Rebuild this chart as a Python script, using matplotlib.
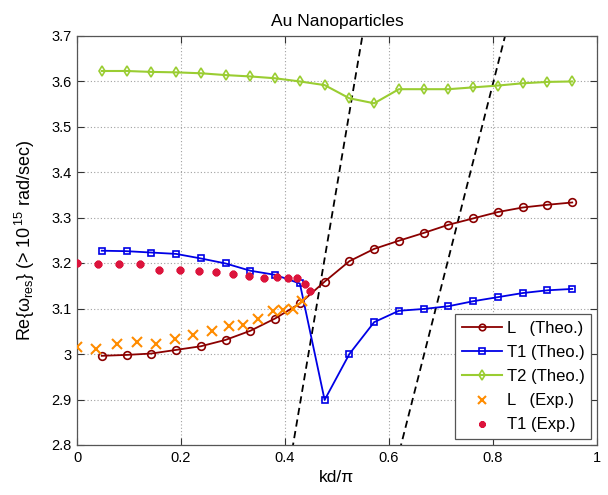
import numpy as np
import matplotlib
matplotlib.use("Agg")
import matplotlib.pyplot as plt

# ---------------- data ----------------
kd_theo = [k / 21 for k in range(1, 21)]
L_theo = [2.996, 2.998, 3.001, 3.009, 3.017, 3.031, 3.051, 3.078, 3.111, 3.159,
          3.204, 3.231, 3.249, 3.266, 3.284, 3.298, 3.312, 3.322, 3.328, 3.333]
T1_theo = [3.227, 3.226, 3.223, 3.220, 3.210, 3.199, 3.183, 3.174, 3.155, 2.899,
           3.000, 3.070, 3.095, 3.099, 3.105, 3.116, 3.125, 3.134, 3.140, 3.143]
T2_theo = [3.622, 3.622, 3.620, 3.619, 3.617, 3.613, 3.610, 3.606, 3.599, 3.591,
           3.562, 3.551, 3.582, 3.582, 3.582, 3.586, 3.590, 3.595, 3.598, 3.599]

kd_L_exp = [0.0, 0.0365, 0.076, 0.115, 0.152, 0.189, 0.224, 0.259, 0.292, 0.320,
            0.349, 0.376, 0.397, 0.415, 0.432]
L_exp = [3.016, 3.012, 3.021, 3.027, 3.023, 3.033, 3.042, 3.051, 3.062, 3.063,
         3.076, 3.095, 3.097, 3.100, 3.117]

kd_T1_exp = [0.0, 0.040, 0.081, 0.121, 0.158, 0.199, 0.235, 0.268, 0.300, 0.331,
             0.359, 0.384, 0.406, 0.424, 0.438, 0.449]
T1_exp = [3.201, 3.198, 3.198, 3.198, 3.185, 3.185, 3.182, 3.180, 3.175, 3.171,
          3.168, 3.170, 3.168, 3.166, 3.153, 3.138]

light_slopes = [6.74, 6.74 / 1.5]   # light lines (vacuum, n = 1.5)

labels = ["L   (Theo.)", "T1 (Theo.)", "T2 (Theo.)", "L   (Exp.)", "T1 (Exp.)"]
xticks = [0, 0.2, 0.4, 0.6, 0.8, 1]
xticklabels = ["0", "0.2", "0.4", "0.6", "0.8", "1"]
yticks = [2.8, 2.9, 3.0, 3.1, 3.2, 3.3, 3.4, 3.5, 3.6, 3.7]
yticklabels = ["2.8", "2.9", "3", "3.1", "3.2", "3.3", "3.4", "3.5", "3.6", "3.7"]

# ---------------- style ----------------
plt.rcParams['font.family'] = ['Liberation Sans', 'DejaVu Sans']
plt.rcParams['mathtext.fontset'] = 'custom'
plt.rcParams['mathtext.rm'] = 'Liberation Sans'
plt.rcParams['mathtext.it'] = 'Liberation Sans:italic'
plt.rcParams['mathtext.default'] = 'regular'

fig = plt.figure(figsize=(6.08, 4.95), dpi=100)
ax = fig.add_axes([77 / 608, 50 / 495, 520 / 608, 409.5 / 495])

c_L = '#8b0000'
c_T1 = '#0000e6'
c_T2 = '#9acd32'
c_Lx = '#ff8c00'
c_Tx = '#dc143c'

# light lines
u = np.linspace(0, 1, 200)
for s in light_slopes:
    ax.plot(u, s * u, color='black', linestyle=(0, (4, 2.5)), linewidth=1.3, zorder=2)

hL, = ax.plot(kd_theo, L_theo, '-o', color=c_L, mfc='none', mec=c_L, ms=5.5, mew=1.2,
              lw=1.3, label=labels[0], zorder=3)
hT1, = ax.plot(kd_theo, T1_theo, '-s', color=c_T1, mfc='none', mec=c_T1, ms=5, mew=1.2,
               lw=1.3, label=labels[1], zorder=3)
hT2, = ax.plot(kd_theo, T2_theo, '-d', color=c_T2, mfc='none', mec=c_T2, ms=5.5, mew=1.2,
               lw=1.5, label=labels[2], zorder=3)
hLx, = ax.plot(kd_L_exp, L_exp, 'x', color=c_Lx, ms=7.5, mew=1.5, label=labels[3], zorder=4)
hTx, = ax.plot(kd_T1_exp, T1_exp, marker=(8, 2, 0), ls='none', color=c_Tx, ms=5.5, mew=2.0,
               label=labels[4], zorder=4)

ax.set_xlim(0, 1)
ax.set_ylim(2.8, 3.7)
ax.set_xticks(xticks)
ax.set_xticklabels(xticklabels)
ax.set_yticks(yticks)
ax.set_yticklabels(yticklabels)
ax.tick_params(direction='in', top=True, right=True, length=5, width=0.8,
               labelsize=10.5, colors='#333333', labelcolor='black', pad=4)
for sp in ax.spines.values():
    sp.set_color('#555555')
    sp.set_linewidth(0.9)
ax.grid(True, linestyle=(0, (1, 2)), color='#a0a0a0', linewidth=0.8)
ax.set_axisbelow(True)

ax.set_title("Au Nanoparticles", fontsize=12.5, pad=7)
ax.set_xlabel("kd/π", fontsize=12.5, labelpad=4)
ax.set_ylabel(r"Re{$\omega_{\rm res}$} (> 10$^{\,15}$ rad/sec)", fontsize=13, labelpad=10)

leg = ax.legend(handles=[hL, hT1, hT2, hLx, hTx], loc='lower right', fontsize=12,
                fancybox=False, framealpha=1, edgecolor='#555555', borderaxespad=0.35,
                handlelength=2.4, handletextpad=0.3, labelspacing=0.55,
                borderpad=0.4, markerscale=0.85)
leg.get_frame().set_linewidth(0.9)

fig.savefig("out.png", dpi=100)
